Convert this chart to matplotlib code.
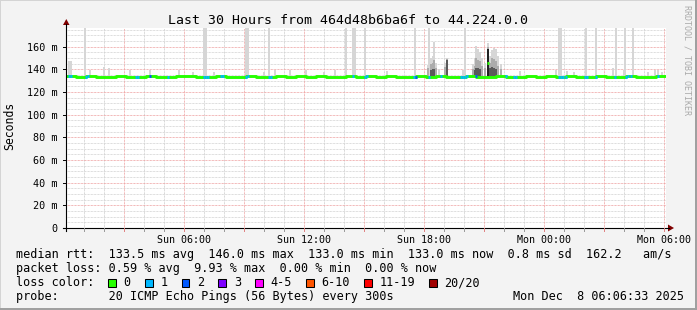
import numpy as np
import matplotlib
matplotlib.use('Agg')
import matplotlib.pyplot as plt
from matplotlib.patches import Rectangle, Polygon
from matplotlib.lines import Line2D

W, H, DPI = 697, 310, 100
MONO = 'DejaVu Sans Mono'

# ---------------- data ----------------
title = "Last 30 Hours from 464d48b6ba6f to 44.224.0.0"
start_clock = 6 / 60 + 33 / 3600            # Sun 00:06:33 in hours after midnight
x_label_clock = [6, 12, 18, 24, 30]
x_labels = ["Sun 06:00", "Sun 12:00", "Sun 18:00", "Mon 00:00", "Mon 06:00"]
y_ticks = [0, 20, 40, 60, 80, 100, 120, 140, 160]
y_labels = ["0", "20 m", "40 m", "60 m", "80 m", "100 m", "120 m", "140 m", "160 m"]
y_max = 176.5

# median rtt (ms), 30-minute steps over 30 hours
median_vals = [133.8, 133.4, 133.9, 133.3, 133.5, 133.9, 133.4, 133.3, 133.8, 133.5,
               133.4, 133.8, 133.9, 133.3, 133.5, 133.8, 133.4, 133.6, 133.9, 133.4,
               133.3, 133.8, 133.5, 133.9, 133.4, 133.8, 133.6, 133.3, 133.9, 133.5,
               133.8, 133.4, 133.9, 133.6, 133.5, 133.8, 133.4, 133.9, 133.5, 133.3,
               133.8, 133.4, 133.6, 133.9, 133.4, 133.3, 133.8, 133.5, 133.9, 133.4,
               133.8, 133.3, 133.6, 133.9, 133.5, 133.4, 133.8, 133.3, 133.6, 133.9]

# smoke (ping spread) events: hour, max, upper band, inner band (nan = none)
nan = float('nan')
smoke_h = [0.12, 0.2, 0.9, 1.15, 1.85, 2.1, 3.15, 4.15, 5.6, 6.3, 6.85, 6.95, 7.35,
           8.95, 9.05, 9.85, 10.1, 10.4, 11.15, 11.95, 12.85, 13.4, 13.95, 14.3, 14.4,
           14.9, 16.0, 17.4, 18.05, 18.1, 18.2, 18.3, 18.37, 18.45, 18.6, 18.9, 19.0,
           19.8, 19.9, 20.3, 20.4, 20.47, 20.55, 20.65, 20.75, 20.9, 21.05, 21.15,
           21.25, 21.35, 21.45, 21.55, 21.7, 22.65, 24.45, 24.6, 24.7, 25.0, 25.35,
           25.95, 26.45, 27.3, 27.45, 27.85, 27.9, 28.3, 29.05, 29.4, 29.55, 29.75]
smoke_max = [147, 147, 200, 139.5, 142, 141, 139, 139, 139, 138, 200, 200, 138,
             200, 200, 138, 200, 139, 139.5, 139, 138, 139.5, 200, 200, 200,
             200, 138.5, 200, 144, 200, 150, 152, 164, 146, 140, 146, 150,
             139, 200, 145, 150, 161, 158, 155, 150, 146, 163, 152,
             157, 159, 158, 152, 145, 138.5, 139, 200, 200, 138.5, 138,
             200, 200, 141, 200, 139, 200, 200, 138, 139, 139, 138]
smoke_hi = [nan, nan, nan, nan, nan, nan, nan, nan, nan, nan, nan, nan, nan,
            nan, nan, nan, nan, nan, nan, nan, nan, nan, nan, nan, nan,
            nan, nan, nan, 141, nan, 145, 146, 148, 141, nan, 142, 149,
            nan, nan, 140, 143, 150, 148, 147, 143, 141, 160, 146,
            150, 149, 147, 143, 140, nan, nan, nan, nan, nan, nan,
            nan, nan, nan, nan, nan, nan, nan, nan, nan, nan, nan]
smoke_mid = [nan, nan, nan, nan, nan, nan, nan, nan, nan, nan, nan, nan, nan,
             nan, nan, nan, nan, nan, nan, nan, nan, nan, nan, nan, nan,
             nan, nan, nan, nan, nan, 139, 140, 140, nan, nan, nan, 148,
             nan, nan, nan, 139, 141, 141, 140, nan, nan, 158, 141,
             142, 141, 140, nan, nan, nan, nan, nan, nan, nan, nan,
             nan, nan, nan, nan, nan, nan, nan, nan, nan, nan, nan]

# packet loss events (5-minute intervals): start hour, lost pings
loss_h = [0.1, 0.2, 0.95, 1.05, 3.45, 3.55, 4.15, 5.05, 6.85, 6.95, 7.05, 7.7, 7.8,
          8.95, 9.05, 10.1, 10.2, 14.3, 14.9, 15.0, 17.35, 17.45, 18.1, 18.7, 19.7,
          19.8, 19.9, 20.0, 20.45, 21.95, 22.35, 22.45, 24.6, 24.7, 24.8, 24.95,
          25.9, 26.0, 26.45, 27.4, 27.95, 28.05, 28.2, 29.55]
loss_n = [1, 1, 1, 1, 1, 1, 2, 1, 1, 1, 1, 1, 1,
          1, 1, 1, 1, 1, 1, 1, 1, 2, 1, 1, 1,
          1, 1, 1, 2, 1, 1, 1, 1, 1, 1, 1,
          1, 1, 1, 1, 1, 1, 1, 1]
peak_median_h = [21.05]
peak_median_v = [146.0]

loss_labels = ["0", "1", "2", "3", "4-5", "6-10", "11-19", "20/20"]
loss_colors = ["#26ff00", "#00b8ff", "#0059ff", "#7e00ff", "#ff00ff", "#ff5500", "#ff0000", "#a10000"]

legend_rows = [
    "median rtt:  133.5 ms avg  146.0 ms max  133.0 ms min  133.0 ms now  0.8 ms sd  162.2   am/s",
    "packet loss: 0.59 % avg  9.93 % max  0.00 % min  0.00 % now",
    "loss color:",
    "probe:       20 ICMP Echo Pings (56 Bytes) every 300s",
]
stamp = "Mon Dec  8 06:06:33 2025"
side_text = "RRDTOOL / TOBI OETIKER"
y_title = "Seconds"

# ---------------- figure ----------------
fig = plt.figure(figsize=(W / DPI, H / DPI), dpi=DPI)
fig.patch.set_facecolor('#f3f3f3')

def fx(x):
    return x / W

def fy(y):
    return 1 - y / H

# border shading
fig.add_artist(Rectangle((0, fy(1)), 1, 1 / H, transform=fig.transFigure, color='#d4d4d4', lw=0))
fig.add_artist(Rectangle((0, 0), 1 / W, 1, transform=fig.transFigure, color='#d4d4d4', lw=0))
fig.add_artist(Rectangle((0, 0), 1, 2 / H, transform=fig.transFigure, color='#a0a0a0', lw=0))
fig.add_artist(Rectangle((fx(W - 2), 0), 2 / W, 1, transform=fig.transFigure, color='#a0a0a0', lw=0))

L, R, T, B = 66, 666, 28, 228
ax = fig.add_axes([fx(L), fy(B), (R - L) / W, (B - T) / H])
ax.set_facecolor('white')
ax.set_xlim(0, 30)
ax.set_ylim(0, y_max)
for s in ax.spines.values():
    s.set_visible(False)

# grid
dots = (0, (0.72, 0.72))
for hc in range(1, 31):
    xh = hc - start_clock
    if hc % 3 == 0:
        ax.axvline(xh, color='#eea0a0', lw=0.72, ls=dots, zorder=1)
    else:
        ax.axvline(xh, color='#cccccc', lw=0.72, ls=dots, zorder=0.5)
for v in np.arange(5, y_max, 5):
    if v % 20 == 0:
        ax.axhline(v, color='#eea0a0', lw=0.72, ls=dots, zorder=1)
    else:
        ax.axhline(v, color='#d2d2d2', lw=0.72, ls=dots, zorder=0.5)

# smoke
step = 1 / 12
def med_at(h):
    return median_vals[min(int(h * 2), len(median_vals) - 1)]

for h, mx, hi, mid in zip(smoke_h, smoke_max, smoke_hi, smoke_mid):
    base = med_at(h) - 0.6
    ax.bar(h, mx - base, bottom=base, width=step, align='edge', color='#d6d6d6', lw=0, zorder=2)
    if not np.isnan(hi):
        ax.bar(h, hi - base, bottom=base, width=step, align='edge', color='#acacac', lw=0, zorder=2.1)
    if not np.isnan(mid):
        ax.bar(h, mid - base, bottom=base, width=step, align='edge',
               color='#222222' if mid > 150 else '#5a5a5a', lw=0, zorder=2.2)

# median line
tx = np.arange(len(median_vals) + 1) * 0.5
ty = median_vals + [median_vals[-1]]
ax.step(tx, ty, where='post', color=loss_colors[0], lw=2.1, zorder=3, solid_capstyle='butt')
for h, n in zip(loss_h, loss_n):
    ax.hlines(med_at(h), h, h + step, colors=loss_colors[n], lw=2.1, zorder=3.1, capstyle='butt')
for h, v in zip(peak_median_h, peak_median_v):
    ax.hlines(v, h, h + step, colors=loss_colors[0], lw=2.1, zorder=3.2, capstyle='butt')

# ticks and labels
ax.set_xticks([c - start_clock for c in x_label_clock])
ax.set_xticklabels(x_labels, fontfamily=MONO, fontsize=7.2)
ax.tick_params(axis='x', length=0, pad=5)
ax.set_yticks(y_ticks)
ax.set_yticklabels(y_labels, fontfamily=MONO, fontsize=7.3)
ax.tick_params(axis='y', length=0, pad=6)

# axis lines with arrows (figure pixel coords)
fig.add_artist(Line2D([fx(L), fx(L)], [fy(B + 3), fy(T - 4)], transform=fig.transFigure, color='black', lw=0.8))
fig.add_artist(Line2D([fx(L - 3), fx(R + 3)], [fy(B), fy(B)], transform=fig.transFigure, color='black', lw=0.8))
fig.add_artist(Polygon([(fx(L - 3), fy(T - 3)), (fx(L + 3.5), fy(T - 3)), (fx(L + 0.3), fy(T - 9))],
                       transform=fig.transFigure, color='#800000', lw=0))
fig.add_artist(Polygon([(fx(R + 2), fy(B - 3.5)), (fx(R + 2), fy(B + 3.5)), (fx(R + 8), fy(B))],
                       transform=fig.transFigure, color='#800000', lw=0))
# tick marks
for v in y_ticks:
    yp = B - v * (B - T) / y_max
    fig.add_artist(Line2D([fx(L - 3), fx(L)], [fy(yp), fy(yp)], transform=fig.transFigure, color='black', lw=0.7))
for hc in range(1, 31):
    xp = L + (hc - start_clock) * (R - L) / 30
    col = '#e08080' if hc % 3 == 0 else '#999999'
    fig.add_artist(Line2D([fx(xp), fx(xp)], [fy(B), fy(B + 2.5)], transform=fig.transFigure, color=col, lw=0.7))

# texts
fig.text(fx(348), fy(24), title, fontfamily=MONO, fontsize=9.5, ha='center', va='baseline')
fig.text(fx(10), fy(125.5), y_title, fontfamily=MONO, fontsize=8.3, rotation=90, ha='center', va='center')
fig.text(fx(687), fy(60), side_text, fontfamily=MONO, fontsize=6, rotation=-90,
         ha='center', va='center', color='#aaaaaa')

row_base = [258.3, 272.3, 286.2, 300.1]
for txt, yb in zip(legend_rows, row_base):
    fig.text(fx(16), fy(yb), txt, fontfamily=MONO, fontsize=8.5, ha='left', va='baseline')
fig.text(fx(513), fy(row_base[3]), stamp, fontfamily=MONO, fontsize=8.5, ha='left', va='baseline')

cw = 7.1
xsq = 16 + 13 * cw
for lab, col in zip(loss_labels, loss_colors):
    fig.add_artist(Rectangle((fx(xsq), fy(286.5)), 7.5 / W, 8 / H, transform=fig.transFigure,
                             facecolor=col, edgecolor='black', lw=0.75))
    xt = xsq + 15.3
    fig.text(fx(xt), fy(row_base[2]), lab, fontfamily=MONO, fontsize=8.5, ha='left', va='baseline')
    xsq = xt + len(lab) * cw + 14.3

fig.savefig('out.png', dpi=DPI, facecolor=fig.get_facecolor())
